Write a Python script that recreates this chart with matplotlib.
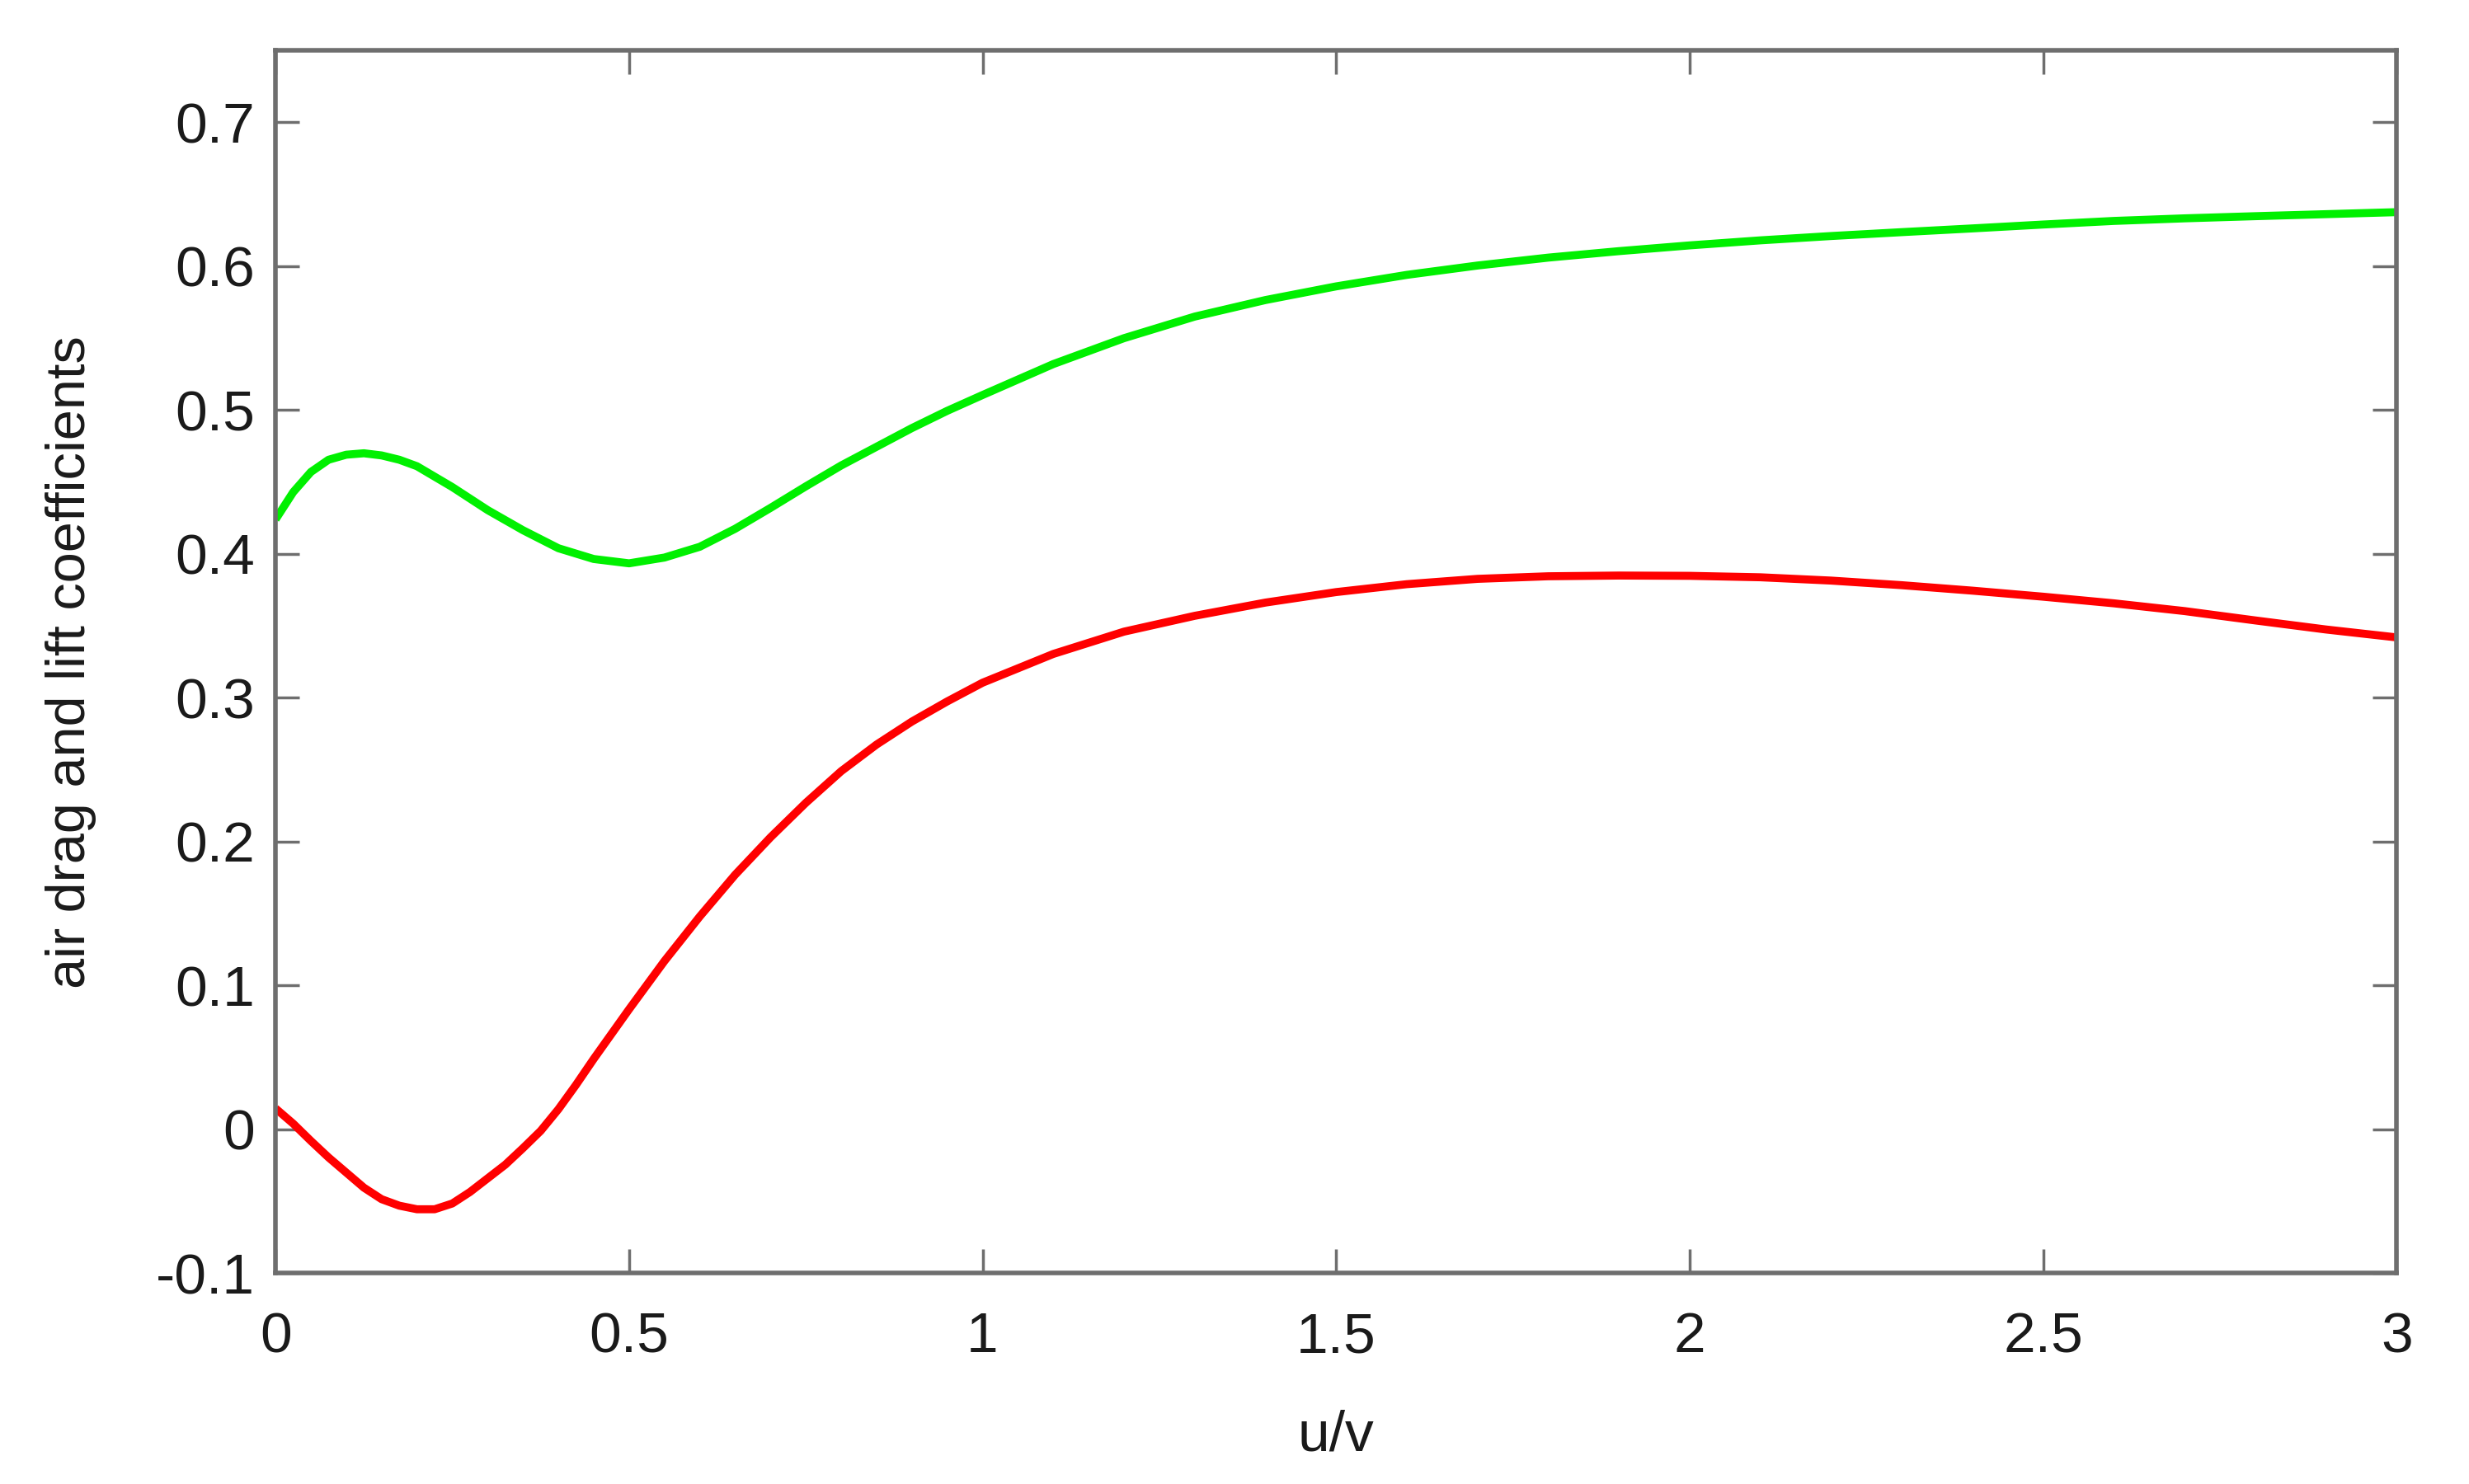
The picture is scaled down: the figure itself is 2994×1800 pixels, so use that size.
import numpy as np
import matplotlib.pyplot as plt

plt.rcParams['font.family'] = ['Liberation Sans', 'DejaVu Sans']

# values
lift_u = [0.0, 0.025, 0.05, 0.075, 0.1, 0.125, 0.15, 0.175, 0.2, 0.25, 0.3, 0.35, 0.4,
          0.45, 0.5, 0.55, 0.6, 0.65, 0.7, 0.75, 0.8, 0.85, 0.9, 0.95, 1.0, 1.1, 1.2,
          1.3, 1.4, 1.5, 1.6, 1.7, 1.8, 1.9, 2.0, 2.1, 2.2, 2.3, 2.4, 2.5, 2.6, 2.7,
          2.8, 2.9, 3.0]
lift = [0.424, 0.443, 0.457, 0.4655, 0.469, 0.470, 0.4685, 0.4655, 0.461, 0.4465, 0.4305,
        0.4165, 0.404, 0.3965, 0.3935, 0.3975, 0.405, 0.4175, 0.432, 0.447, 0.4615, 0.4745,
        0.4875, 0.4995, 0.5105, 0.532, 0.550, 0.565, 0.5765, 0.586, 0.594, 0.6005, 0.606,
        0.6105, 0.6145, 0.618, 0.621, 0.6237, 0.6263, 0.629, 0.6315, 0.6333, 0.6348, 0.6362,
        0.6376]

drag_u = [0.0, 0.025, 0.05, 0.075, 0.1, 0.125, 0.15, 0.175, 0.2, 0.225, 0.25, 0.275, 0.3,
          0.325, 0.35, 0.375, 0.4, 0.425, 0.45, 0.5, 0.55, 0.6, 0.65, 0.7, 0.75, 0.8, 0.85,
          0.9, 0.95, 1.0, 1.1, 1.2, 1.3, 1.4, 1.5, 1.6, 1.7, 1.8, 1.9, 2.0, 2.1, 2.2, 2.3,
          2.4, 2.5, 2.6, 2.7, 2.8, 2.9, 3.0]
drag = [0.0146, 0.004, -0.008, -0.0195, -0.030, -0.0405, -0.0485, -0.053, -0.0555, -0.0555,
        -0.0515, -0.0435, -0.034, -0.0245, -0.013, -0.001, 0.014, 0.031, 0.049, 0.0835, 0.117,
        0.148, 0.177, 0.203, 0.227, 0.249, 0.2675, 0.2835, 0.2975, 0.3105, 0.3305, 0.346,
        0.357, 0.3662, 0.3735, 0.379, 0.3827, 0.3845, 0.385, 0.3848, 0.3838, 0.3815, 0.3783,
        0.3745, 0.3703, 0.3657, 0.3603, 0.3538, 0.3475, 0.342]

xticks = [0, 0.5, 1, 1.5, 2, 2.5, 3]
xticklabels = ['0', '0.5', '1', '1.5', '2', '2.5', '3']
yticks = [-0.1, 0, 0.1, 0.2, 0.3, 0.4, 0.5, 0.6, 0.7]
yticklabels = ['-0.1', '0', '0.1', '0.2', '0.3', '0.4', '0.5', '0.6', '0.7']

fig = plt.figure(figsize=(29.94, 18), dpi=100)
ax = fig.add_axes([0.1116, 0.142, 0.8591, 0.824])

ax.plot(lift_u, lift, color='#00f000', lw=7, solid_capstyle='butt')
ax.plot(drag_u, drag, color='#ff0000', lw=7, solid_capstyle='butt')

ax.set_xlim(0, 3)
ax.set_ylim(-0.1, 0.75)
ax.set_xticks(xticks)
ax.set_xticklabels(xticklabels)
ax.set_yticks(yticks)
ax.set_yticklabels(yticklabels)

for s in ax.spines.values():
    s.set_color('#6e6e6e')
    s.set_linewidth(4)

ax.tick_params(direction='in', length=21, width=2.5, color='#6e6e6e',
               labelsize=50, labelcolor='#1a1a1a', top=True, right=True)
ax.tick_params(axis='x', pad=33)
ax.tick_params(axis='y', pad=18)

ax.set_xlabel('u/v', fontsize=50, color='#1a1a1a', labelpad=40)
ax.set_ylabel('air drag and lift coefficients', fontsize=48, color='#1a1a1a', labelpad=52)

fig.savefig('out.png', dpi=100, facecolor='white')
